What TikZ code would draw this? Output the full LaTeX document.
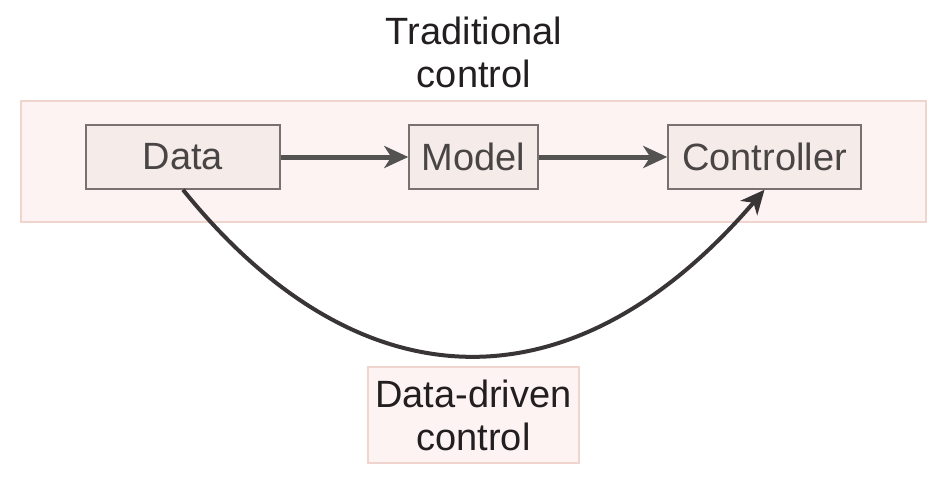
\documentclass[tikz,border=0pt]{standalone}
\usepackage{fontspec}
\setmainfont{Liberation Sans}
\usetikzlibrary{arrows.meta}
\definecolor{outerfill}{HTML}{FDF3F2}
\definecolor{outerline}{HTML}{F0D5CF}
\definecolor{boxfill}{HTML}{F5ECEA}
\definecolor{boxline}{HTML}{7A7070}
\definecolor{boxtext}{HTML}{4A4545}
\definecolor{darktext}{HTML}{231F20}
\definecolor{arrowgray}{HTML}{555252}
\begin{document}
\begin{tikzpicture}[x=1pt,y=-1pt,
  bigfont/.style={font=\fontsize{38}{43}\selectfont},
  framebox/.style={draw=outerline,fill=outerfill,line width=1.5pt,inner sep=0pt},
  stagebox/.style={draw=boxline,fill=boxfill,line width=1.5pt,inner sep=0pt,text=boxtext,bigfont,minimum height=64pt},
  flow/.style={draw=arrowgray,line width=5pt,-{Stealth[length=24pt,width=22pt,inset=7pt]}},
  bypass/.style={draw=darktext!90!white,line width=4pt,-{Stealth[length=24pt,width=22pt,inset=7pt]}}]
\useasboundingbox (0,0) rectangle (951,480);
\node[framebox,minimum width=905pt,minimum height=121pt] (frame) at (473.5,161.5) {};
\node[text=darktext,bigfont,align=center] (title) at (474,52) {Traditional\\control};
\node[stagebox,minimum width=194pt] (data) at (183,157) {Data};
\node[stagebox,minimum width=129pt] (model) at (473.5,157) {Model};
\node[stagebox,minimum width=193pt] (ctrl) at (764.5,157) {Controller};
\node[framebox,minimum width=211pt,minimum height=96pt,text=darktext,bigfont,align=center] (dd) at (473.5,415) {Data-driven\\control};
\draw[flow] (data.east) -- (model.west);
\draw[flow] (model.east) -- (ctrl.west);
\draw[bypass] (data.south) .. controls (360,409) and (574,412) .. (ctrl.south);
\end{tikzpicture}
\end{document}
